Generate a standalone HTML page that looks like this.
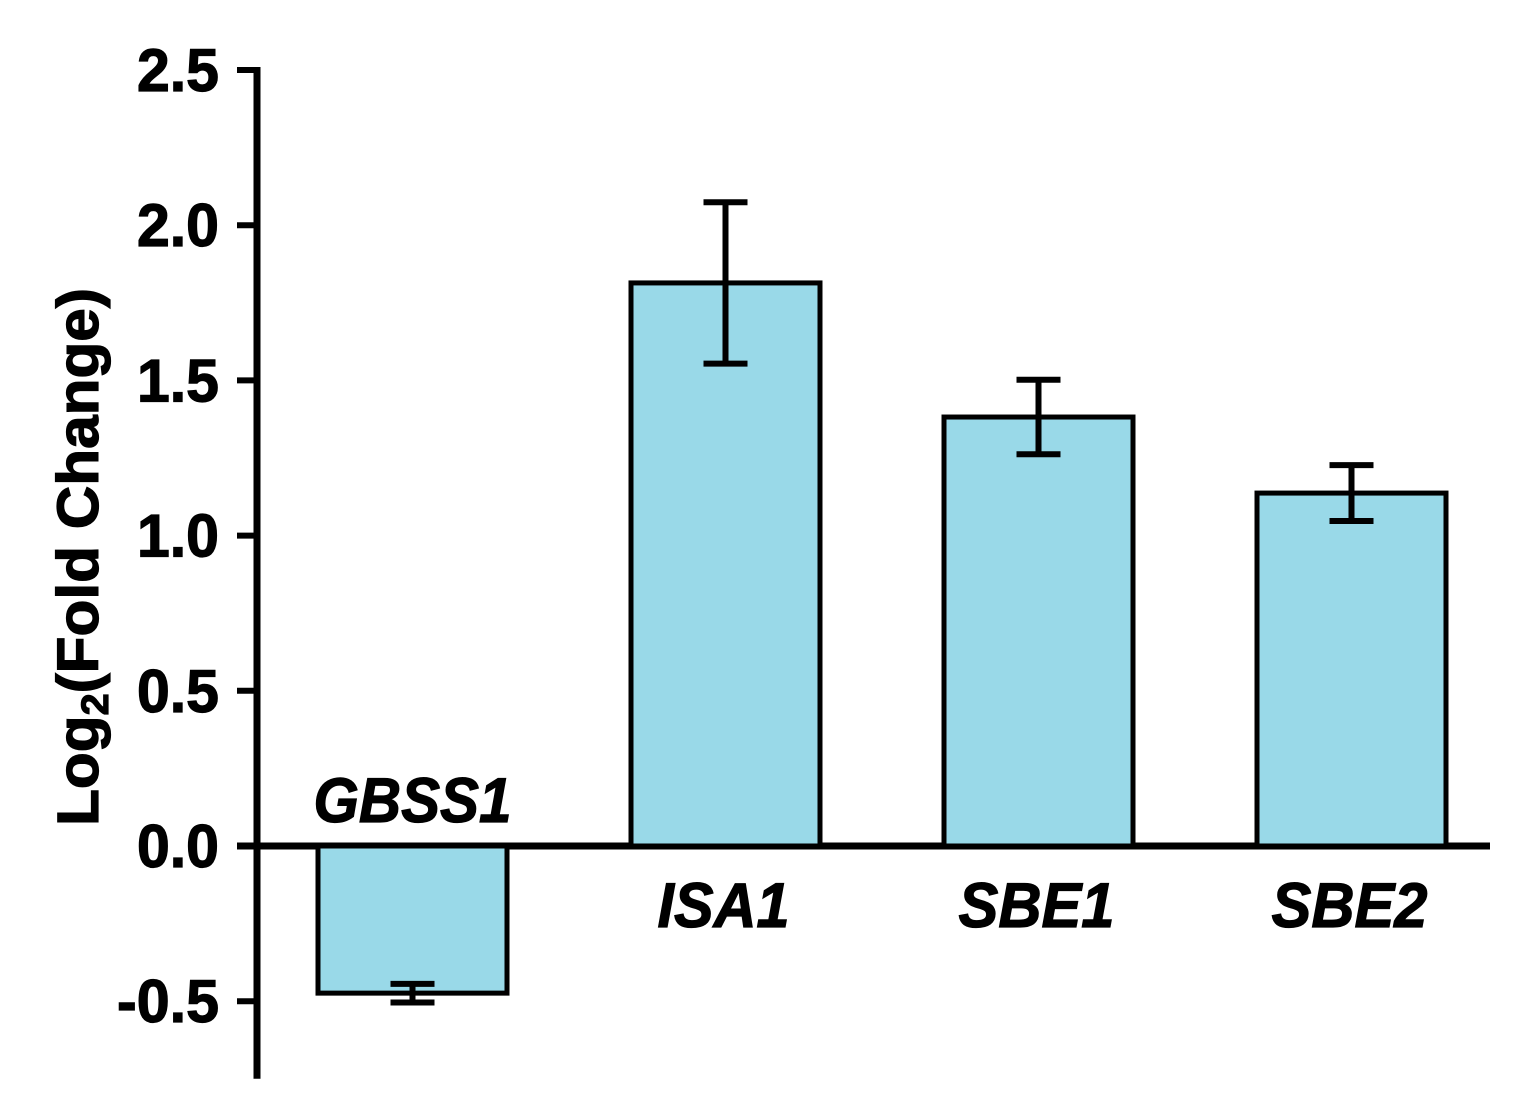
<!DOCTYPE html>
<html><head><meta charset="utf-8"><style>
html,body{margin:0;padding:0;background:#fff;}
svg{display:block;}
text{font-family:"Liberation Sans",Arial,sans-serif;font-weight:bold;fill:#000;stroke:#000;stroke-width:1.2px;}
</style></head><body>
<svg id="chart" width="1519" height="1118" viewBox="0 0 1519 1118" xmlns="http://www.w3.org/2000/svg">
<g id="axes"></g><g id="bars"></g>
<text transform="translate(98,557) rotate(-90) scale(1.04,1)" text-anchor="middle" font-size="58">Log<tspan font-size="38" dy="10">2</tspan><tspan dy="-10">(Fold Change)</tspan></text>
</svg>
<script>
const categories = ["GBSS1","ISA1","SBE1","SBE2"];
const values = [-0.474, 1.814, 1.382, 1.137];
const errors = [0.03, 0.26, 0.12, 0.09];
const yTicks = [2.5, 2.0, 1.5, 1.0, 0.5, 0.0, -0.5];
const yTickLabels = ["2.5","2.0","1.5","1.0","0.5","0.0","-0.5"];

const NS = "http://www.w3.org/2000/svg";
const y = v => 846 - v * 310.4;
const barLeft = i => 318 + i * 313;
const barW = 189;
function mk(tag, attrs, parent){const e=document.createElementNS(NS,tag);for(const k in attrs)e.setAttribute(k,attrs[k]);parent.appendChild(e);return e;}
const axes = document.getElementById('axes');
const bars = document.getElementById('bars');

const ya = mk('line',{x1:257,x2:257,y1:67,y2:y(-0.75),stroke:'#000','stroke-width':7},axes);


yTicks.forEach((t,i)=>{
  const tk = mk('line',{x1:237,x2:257,y1:y(t),y2:y(t),stroke:'#000','stroke-width':6},axes);
  
  
  const s = yTickLabels[i];
  const lb = mk('text',{x:219,y:y(t)+21,'text-anchor':'end','font-size':60,textLength:(s.length===4?102:82),lengthAdjust:'spacingAndGlyphs'},axes);
  lb.textContent = s;
  
  
});

categories.forEach((c,i)=>{
  const v = values[i], x0 = barLeft(i), cx = x0 + barW/2;
  const top = Math.min(y(v), y(0)), h = Math.abs(y(v) - y(0));
  const r = mk('rect',{x:x0,y:top,width:barW,height:h,fill:'#99d9e8',stroke:'#000','stroke-width':5},bars);
  
  
  const e1 = y(v+errors[i]), e2 = y(v-errors[i]);
  const eg = mk('g',{stroke:'#000','stroke-width':6},bars);
  
  
  mk('line',{x1:cx,x2:cx,y1:e1,y2:e2},eg);
  mk('line',{x1:cx-22,x2:cx+22,y1:e1,y2:e1},eg);
  mk('line',{x1:cx-22,x2:cx+22,y1:e2,y2:e2},eg);
  const ly = v < 0 ? y(0) - 24 : y(0) + 81;
  const lx = v < 0 ? cx + 0 : cx - 2;
  const lb = mk('text',{x:lx,y:ly,'text-anchor':'middle','font-size':63,'font-style':'italic',textLength:(c==='ISA1'?132:(c==='GBSS1'?198:156)),lengthAdjust:'spacingAndGlyphs'},bars);
  lb.textContent = c;
  
  
});
const xa = mk('line',{x1:237,x2:1490,y1:y(0),y2:y(0),stroke:'#000','stroke-width':7},axes);


</script>
</body></html>
